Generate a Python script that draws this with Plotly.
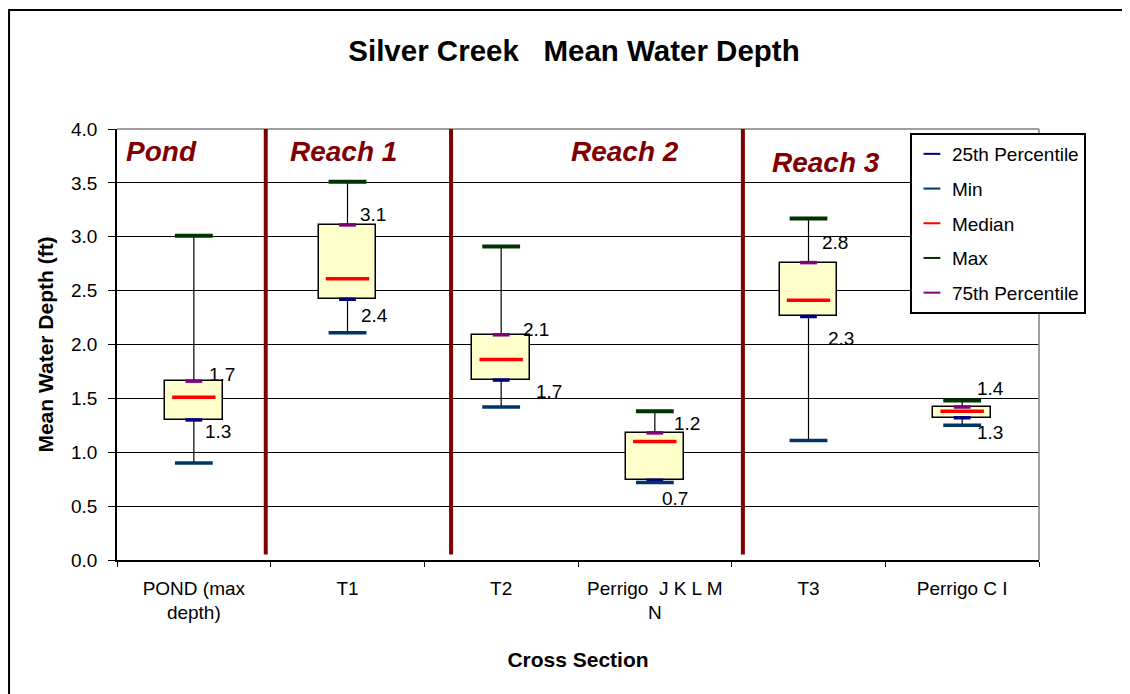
import plotly.graph_objects as go

# ---------------- data ----------------
categories = ["POND (max<br>depth)", "T1", "T2", "Perrigo\u00a0 J K L M<br>N", "T3", "Perrigo C I"]
min_vals = [0.90, 2.11, 1.42, 0.72, 1.11, 1.25]
q1_vals = [1.30, 2.42, 1.67, 0.74, 2.26, 1.32]
median_vals = [1.51, 2.61, 1.86, 1.10, 2.41, 1.38]
q3_vals = [1.66, 3.11, 2.09, 1.18, 2.76, 1.42]
max_vals = [3.01, 3.51, 2.91, 1.38, 3.17, 1.48]

region_names = ["Pond", "Reach 1", "Reach 2", "Reach 3"]
region_label_x = [-0.454, 0.615, 2.441, 3.751]
region_label_y = [3.787, 3.787, 3.787, 3.689]
separator_x = [0.468, 1.674, 3.573]

y_ticks = [0.0, 0.5, 1.0, 1.5, 2.0, 2.5, 3.0, 3.5, 4.0]

# ---------------- styles ----------------
FONT = "Liberation Sans, Arial, sans-serif"
W, H = 1122, 686  # page body adds an 8px offset
upper_xshift = [13, 10, 20, 17, 11, 13]
upper_yshift = [7, 10, 5, 9, 20, 19]
lower_xshift = [9, 11, 33, 5, 17, 13]
lower_yshift = [-12, -16, -11, -18, -22, -15]

fig = go.Figure()

# whiskers
wx, wy = [], []
for c, lo, a, b, hi in zip(categories, min_vals, q1_vals, q3_vals, max_vals):
    wx += [c, c, None, c, c, None]
    wy += [lo, a, None, b, hi, None]
fig.add_trace(go.Scatter(x=wx, y=wy, mode="lines", line=dict(color="black", width=1.2),
                         showlegend=False, hoverinfo="skip"))

# boxes
fig.add_trace(go.Bar(x=categories, y=[b - a for a, b in zip(q1_vals, q3_vals)], base=q1_vals,
                     width=0.377, marker=dict(color="#FFFFCC", line=dict(color="black", width=1.5)),
                     showlegend=False, hoverinfo="skip"))

series = [
    ("25th Percentile", q1_vals, "#000080", 12, 3.5),
    ("Min", min_vals, "#003366", 27, 3.5),
    ("Median", median_vals, "#FF0000", 31, 3.5),
    ("Max", max_vals, "#003300", 27, 4),
    ("75th Percentile", q3_vals, "#800080", 12, 3.5),
]
for name, vals, color, size, lw in series:
    fig.add_trace(go.Scatter(x=categories, y=vals, mode="markers", name=name, legendgroup=name,
                             marker=dict(symbol="line-ew", size=size, color=color,
                                         line=dict(color=color, width=lw))))

annotations = []
for i, c in enumerate(categories):
    annotations.append(dict(x=c, y=q3_vals[i], text=f"{q3_vals[i]:.1f}", showarrow=False,
                            xanchor="left", yanchor="middle", xshift=upper_xshift[i],
                            yshift=upper_yshift[i], font=dict(family=FONT, size=19, color="black")))
    annotations.append(dict(x=c, y=q1_vals[i], text=f"{q1_vals[i]:.1f}", showarrow=False,
                            xanchor="left", yanchor="middle", xshift=lower_xshift[i],
                            yshift=lower_yshift[i], font=dict(family=FONT, size=19, color="black")))
for name, x, y in zip(region_names, region_label_x, region_label_y):
    annotations.append(dict(x=x, y=y, xref="x", yref="y", text=name, showarrow=False,
                            xanchor="left", yanchor="middle",
                            font=dict(family=FONT, size=28, color="#800000", weight="bold", style="italic")))

shapes = []
# outer frame
shapes.append(dict(type="rect", xref="paper", yref="paper", x0=-0.1171, x1=1.12, y0=-0.40, y1=1.2761,
                   line=dict(color="black", width=2), layer="below"))
# plot area top/right border (gray)
shapes.append(dict(type="line", xref="paper", yref="paper", x0=0, x1=1, y0=1, y1=1,
                   line=dict(color="#808080", width=1.5)))
shapes.append(dict(type="line", xref="paper", yref="paper", x0=1, x1=1, y0=0, y1=1,
                   line=dict(color="#808080", width=1.5)))
for sx in separator_x:
    shapes.append(dict(type="line", xref="x", yref="y", x0=sx, x1=sx, y0=0.05, y1=4.0,
                       line=dict(color="#800000", width=4)))

fig.update_layout(
    width=W, height=H, autosize=False,
    margin=dict(l=109, r=91, t=121, b=134),
    paper_bgcolor="white", plot_bgcolor="white",
    font=dict(family=FONT, size=19, color="black"),
    title=dict(text="Silver Creek\u00a0\u00a0 Mean Water Depth", x=566 / W, xanchor="center",
               xref="container", yref="container", y=1 - 43 / H, yanchor="middle",
               font=dict(family=FONT, size=29.5, weight="bold", color="black")),
    showlegend=True,
    legend=dict(x=0.86, y=0.9907, xanchor="left", yanchor="top", bgcolor="white",
                bordercolor="black", borderwidth=2, font=dict(family=FONT, size=19),
                traceorder="grouped", tracegroupgap=7, itemsizing="constant", itemwidth=30),
    annotations=annotations,
    shapes=shapes,
    bargap=0,
)
fig.update_xaxes(type="category", range=[-0.5, 5.5], tickson="boundaries", ticks="outside",
                 ticklen=5, tickcolor="black", showline=True, linecolor="black", linewidth=1.5,
                 showgrid=False, ticklabelstandoff=10,
                 title=dict(text="Cross Section", standoff=30,
                            font=dict(family=FONT, size=21, weight="bold")))
fig.update_yaxes(range=[0, 4.0], tickvals=y_ticks, ticktext=[f"{v:.1f}" for v in y_ticks],
                 ticks="outside", ticklen=7, tickcolor="black", showline=True, linecolor="black",
                 linewidth=1.5, showgrid=True, gridcolor="black", gridwidth=1, zeroline=False,
                 ticklabelstandoff=7,
                 title=dict(text="Mean Water Depth (ft)", standoff=12,
                            font=dict(family=FONT, size=21, weight="bold")))

fig.write_html("out.html")
